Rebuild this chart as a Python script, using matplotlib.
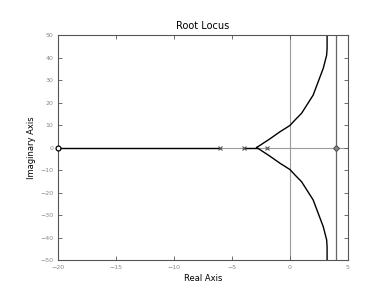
import numpy as np
import matplotlib
matplotlib.use("Agg")
import matplotlib.pyplot as plt

# open-loop poles / zeros
poles = [-6, -4, -2]
zeros = [-20, 4]

# locus on real axis (black parts)
seg1_x = [-20, -6]
seg2_x = [-4, -2.87]

# upper branch (mirror for lower)
branch_re = [-2.87, -1.8, -0.86, 0.0, 0.43, 1.0, 2.0, 2.87, 3.16, 3.2, 3.2]
branch_im = [0.0, 3.6, 7.0, 9.8, 12.2, 15.2, 23.3, 35.2, 41.0, 44.0, 50.0]

xticks = [-20, -15, -10, -5, 0, 5]
yticks = [-50, -40, -30, -20, -10, 0, 10, 20, 30, 40, 50]

fig = plt.figure(figsize=(3.85, 2.91), dpi=100)
ax = fig.add_axes([0.1506, 0.1065, 0.7532, 0.7732])

grey = '#9a9a9a'
ax.axhline(0, color=grey, lw=0.8, zorder=1)
ax.axvline(0, color=grey, lw=0.8, zorder=1)
ax.axvline(zeros[1], color='#666666', lw=0.9, zorder=1)

ax.plot(seg1_x, [0, 0], color='black', lw=1.0, zorder=2)
ax.plot(seg2_x, [0, 0], color='black', lw=1.0, zorder=2)
br = np.array(branch_im)
ax.plot(branch_re, br, color='black', lw=1.0, zorder=2)
ax.plot(branch_re, -br, color='black', lw=1.0, zorder=2)

ax.plot(poles, [0] * len(poles), 'x', color='#555555', ms=2.5, mew=0.8, zorder=3)
ax.plot(zeros[0], 0, 'o', mfc='white', mec='black', ms=3.5, mew=0.9,
        zorder=3, clip_on=False)
ax.plot(zeros[1], 0, 'D', mfc='#888888', mec='#555555', ms=3, mew=0.8, zorder=3)

ax.set_xlim(-20, 5)
ax.set_ylim(-50, 50)
ax.set_xticks(xticks)
ax.set_yticks(yticks)
ax.tick_params(direction='in', length=3, width=0.6, colors='#555555',
               labelsize=4.5, labelcolor='#888888', top=True, right=True)
for s in ax.spines.values():
    s.set_color('#555555')
    s.set_linewidth(0.8)

ax.set_title('Root Locus', fontsize=7, pad=4)
ax.set_xlabel('Real Axis', fontsize=6, labelpad=3)
ax.set_ylabel('Imaginary Axis', fontsize=6, labelpad=3)

fig.savefig('out.png', dpi=100)
